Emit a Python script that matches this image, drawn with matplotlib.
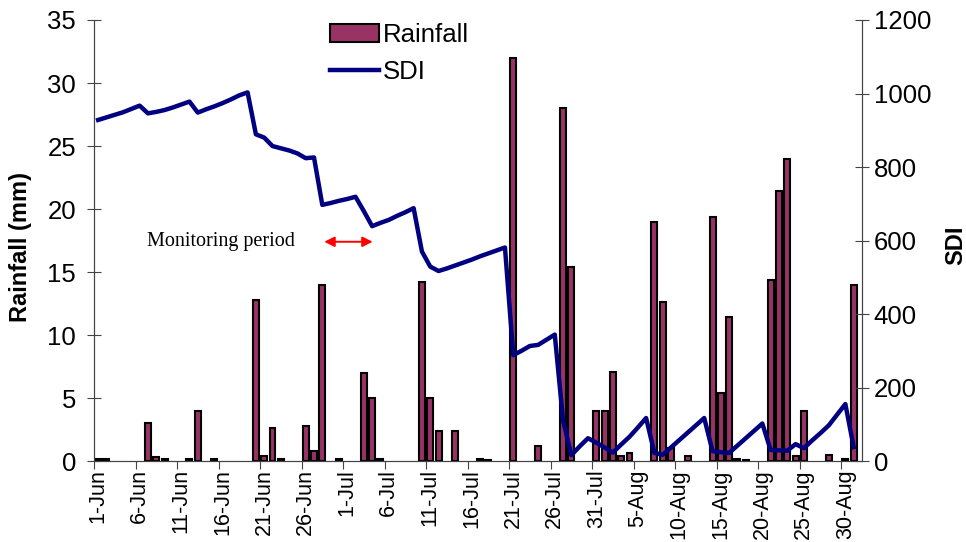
import matplotlib
matplotlib.use("Agg")
import matplotlib.pyplot as plt
import numpy as np

plt.rcParams['font.family'] = ['Liberation Sans', 'DejaVu Sans']

# Daily rainfall (mm), 1-Jun .. 31-Aug
rainfall = [
    0.2, 0.2, 0, 0, 0, 0, 3.0, 0.3, 0.2, 0,
    0, 0.2, 4.0, 0, 0.2, 0, 0, 0, 0, 12.8,
    0.4, 2.6, 0.2, 0, 0, 2.8, 0.8, 14.0, 0, 0.2,
    0, 0, 7.0, 5.0, 0.2, 0, 0, 0, 0, 14.2,
    5.0, 2.4, 0, 2.4, 0, 0, 0.2, 0.1, 0, 0,
    32.0, 0, 0, 1.2, 0, 0, 28.0, 15.4, 0, 0,
    4.0, 4.0, 7.1, 0.4, 0.6, 0, 0, 19.0, 12.6, 1.0,
    0, 0.4, 0, 0, 19.4, 5.4, 11.4, 0.2, 0.1, 0,
    0, 14.4, 21.4, 24.0, 0.4, 4.0, 0, 0, 0.5, 0,
    0.2, 14.0,
]

# Soil dryness index, same days
sdi = [
    928, 935, 942, 949, 958, 967, 946, 950, 955, 962,
    970, 978, 948, 957, 965, 974, 984, 995, 1003, 889,
    880, 857, 851, 845, 837, 824, 826, 697, 702, 708,
    713, 719, 680, 639, 648, 656, 667, 677, 688, 570,
    529, 517, 524, 532, 540, 548, 557, 565, 573, 581,
    288, 300, 313, 316, 330, 344, 110, 16, 40, 62,
    50, 37, 23, 45, 66, 91, 117, 22, 17, 37,
    57, 77, 97, 117, 27, 24, 22, 42, 62, 82,
    102, 30, 29, 28, 46, 35, 56, 76, 97, 126,
    155, 38,
]

tick_labels = ["1-Jun", "6-Jun", "11-Jun", "16-Jun", "21-Jun", "26-Jun",
               "1-Jul", "6-Jul", "11-Jul", "16-Jul", "21-Jul", "26-Jul",
               "31-Jul", "5-Aug", "10-Aug", "15-Aug", "20-Aug", "25-Aug",
               "30-Aug"]

days = np.arange(len(rainfall))
rain = np.array(rainfall, dtype=float)
rain[rain == 0] = np.nan   # dry days: no bar outline

fig = plt.figure(figsize=(9.66, 5.42), dpi=100)
ax = fig.add_axes([0.0973, 0.1494, 0.795, 0.8137])
ax2 = ax.twinx()

bars = ax.bar(days, rain, width=0.72, color="#993366",
              edgecolor="black", linewidth=1.5, label="Rainfall")
line, = ax2.plot(days, sdi, color="#000080", linewidth=3.2, label="SDI")

ax.set_xlim(-0.5, 92.0)
ax.set_ylim(0, 35)
ax2.set_ylim(0, 1200)
ax.set_yticks(np.arange(0, 36, 5))
ax2.set_yticks(np.arange(0, 1201, 200))

# tick marks between categories, labels on category centres
ax.set_xticks(np.arange(-0.5, 92, 5))
ax.set_xticklabels([])
ax.set_xticks(np.arange(0, 92, 5), minor=True)
ax.set_xticklabels(tick_labels, minor=True, rotation=90, fontsize=15.5)
ax.tick_params(axis="x", which="major", length=6, direction="out",
               color="#444444")
ax.tick_params(axis="x", which="minor", length=0, pad=6)

ax.tick_params(axis="y", direction="inout", length=10, labelsize=18.5,
               color="#444444", pad=8)
ax2.tick_params(axis="y", direction="inout", length=10, labelsize=18.5,
                color="#444444")

for a in (ax, ax2):
    a.spines["top"].set_visible(False)
    for s in ("left", "right", "bottom"):
        a.spines[s].set_color("#444444")

ax.set_ylabel("Rainfall (mm)", fontsize=17, fontweight="bold")
ax.yaxis.set_label_coords(-0.081, 0.485)
ax2.set_ylabel("SDI", fontsize=17, fontweight="bold")
ax2.yaxis.set_label_coords(1.107, 0.49)

ax.text(14.8, 17.4, "Monitoring period", family="Liberation Serif",
        fontsize=14.5, ha="center", va="center")
ax.annotate("", xy=(26.9, 17.4), xytext=(33.4, 17.4),
            arrowprops=dict(arrowstyle="<|-|>", color="red", lw=1.4,
                            mutation_scale=15))

fig.legend([bars, line], ["Rainfall", "SDI"], loc="upper left",
           bbox_to_anchor=(0.318, 1.0), frameon=False, fontsize=18.5,
           handlelength=1.9, labelspacing=0.5, handletextpad=0.15)

fig.savefig("out.png", dpi=100)
